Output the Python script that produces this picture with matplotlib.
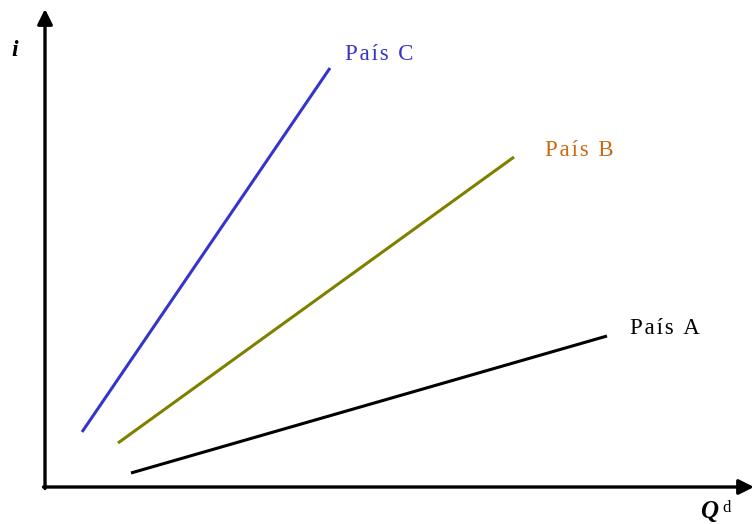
import matplotlib.pyplot as plt

# schematic demand curves, coordinates relative to the axes origin
countries = ['País A', 'País B', 'País C']
q_start = [86, 73, 37]
i_start = [14, 44, 55]
q_end = [562, 469, 285]
i_end = [151, 330, 419]
line_colors = ['black', '#808000', '#3535CC']
label_colors = ['black', '#CC6A10', '#3535CC']
label_q = [585, 500, 300]
label_i = [158, 337, 433]

plt.rcParams['font.family'] = ['Liberation Serif', 'DejaVu Serif']

fig = plt.figure(figsize=(7.54, 5.24), dpi=100)
ax = fig.add_axes([0, 0, 1, 1])
ax.set_xlim(-45, 709)
ax.set_ylim(-37, 487)
ax.axis('off')

# axes with arrow heads
ax.annotate('', xy=(0, 478), xytext=(0, -1.5),
            arrowprops=dict(arrowstyle='-|>,head_length=0.9,head_width=0.45',
                            color='black', lw=2.4, shrinkA=0, shrinkB=0))
ax.annotate('', xy=(709, 0), xytext=(-1.5, 0),
            arrowprops=dict(arrowstyle='-|>,head_length=0.9,head_width=0.45',
                            color='black', lw=2.4, shrinkA=0, shrinkB=0))

for k in range(len(countries)):
    ax.plot([q_start[k], q_end[k]], [i_start[k], i_end[k]],
            color=line_colors[k], lw=2.2, solid_capstyle='butt')
    spaced = '\u200a'.join(countries[k])
    ax.text(label_q[k], label_i[k], spaced, color=label_colors[k],
            fontsize=16.5, ha='left', va='center')

ax.text(-30, 436, 'i', fontsize=17, fontweight='bold', fontstyle='italic',
        ha='center', va='center')
ax.text(664, -25, 'Q', fontsize=18, fontweight='bold', fontstyle='italic',
        ha='center', va='center')
ax.text(677, -21, 'd', fontsize=12, ha='left', va='center')

fig.savefig('out.png', dpi=100)
